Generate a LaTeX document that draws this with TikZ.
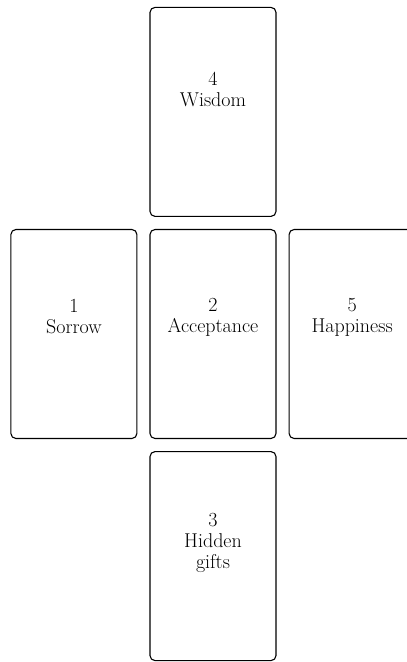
\documentclass[tikz,border=0pt]{standalone}
\usepackage{tikz}
\usetikzlibrary{positioning}
\tikzstyle{card} = [rectangle, rounded corners=5pt, minimum width=126pt, minimum height=209pt, draw=black, line width=1.1pt]
\tikzstyle{cardtext} = [align=center, font=\fontsize{20}{21}\selectfont]

\begin{document}
\begin{tikzpicture}[x=1pt, y=1pt, node distance=12pt]
    \useasboundingbox (0,0) rectangle (407,662);
    % Cards
    \node (C2) [card] at (213,328) {};
    \node (C1) [card, left=of C2] {};
    \node (C5) [card, right=of C2] {};
    \node (C4) [card, above=of C2] {};
    \node (C3) [card, below=of C2] {};

    % Texts
    \node (T4) [cardtext] at ([yshift=22pt]C4.center) {4\\Wisdom};
    \node (T1) [cardtext] at ([yshift=17pt]C1.center) {1\\Sorrow};
    \node (T2) [cardtext] at ([yshift=17pt]C2.center) {2\\Acceptance};
    \node (T5) [cardtext] at ([yshift=17pt]C5.center) {5\\Happiness};
    \node (T3) [cardtext] at ([yshift=13pt]C3.center) {3\\Hidden\\gifts};
\end{tikzpicture}
\end{document}
